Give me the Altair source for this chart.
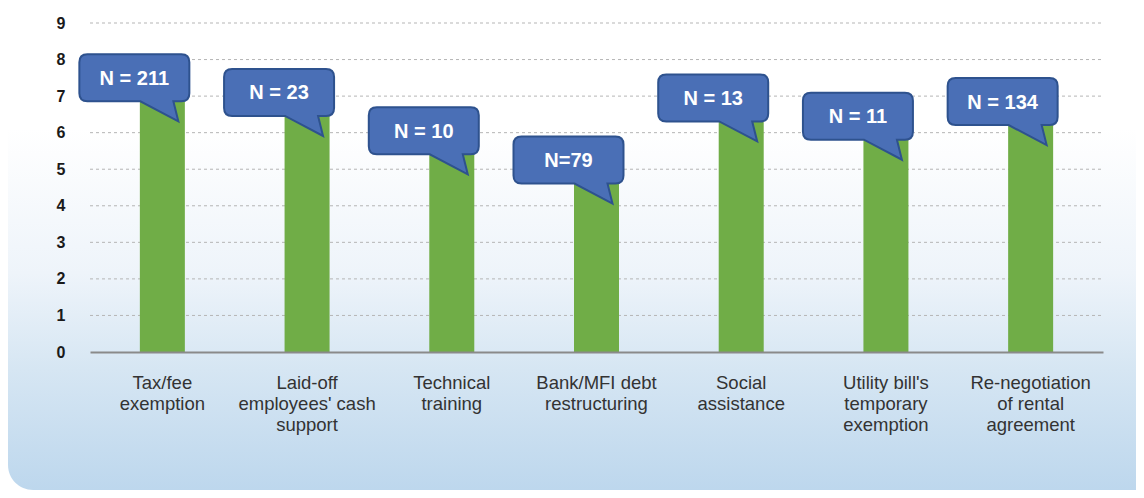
import altair as alt
import pandas as pd

categories = [
    "Tax/fee\nexemption",
    "Laid-off\nemployees' cash\nsupport",
    "Technical\ntraining",
    "Bank/MFI debt\nrestructuring",
    "Social\nassistance",
    "Utility bill's\ntemporary\nexemption",
    "Re-negotiation\nof rental\nagreement",
]
values = [7.5, 7.1, 6.05, 5.25, 6.95, 6.45, 6.85]
n_labels = ["N = 211", "N = 23", "N = 10", "N=79", "N = 13", "N = 11", "N = 134"]
y_ticks = [0, 1, 2, 3, 4, 5, 6, 7, 8, 9]
grid_vals = [1, 2, 3, 4, 5, 6, 7, 8, 9]

df = pd.DataFrame({"cat": categories, "val": values, "n": n_labels})
grid_df = pd.DataFrame({"g": grid_vals})

W, H = 1013, 329
PL, PT, PR, PB = 82, 15, 33, 138

callout_path = (
    "M -0.75,-0.235 L 0.19,-0.235 Q 0.27,-0.235 0.27,-0.155 L 0.27,0.155 "
    "Q 0.27,0.235 0.19,0.235 L 0.11,0.235 L 0.16,0.435 L -0.22,0.235 "
    "L -0.75,0.235 Q -0.83,0.235 -0.83,0.155 L -0.83,-0.155 "
    "Q -0.83,-0.235 -0.75,-0.235 Z"
)

x_enc = alt.X(
    "cat:N",
    sort=categories,
    title=None,
    axis=alt.Axis(
        labelAngle=0,
        labelExpr="split(datum.label, '\\n')",
        labelFont="Liberation Sans",
        labelFontSize=18.5,
        labelColor="#333333",
        labelLineHeight=21,
        labelPadding=21,
        labelBaseline="top",
        ticks=False,
        domainColor="#8a8a8a",
        domainWidth=2,
        grid=False,
        zindex=1,
        labelLimit=300,
    ),
)
y_scale = alt.Scale(domain=[0, 9], nice=False)
y_axis = alt.Axis(
    values=y_ticks,
    labelFont="Liberation Sans",
    labelFontSize=16,
    labelFontWeight="bold",
    labelColor="#1a1a1a",
    labelPadding=25,
    labelOverlap=False,
    ticks=False,
    domain=False,
    grid=False,
    zindex=1,
)
y_enc = alt.Y("val:Q", scale=y_scale, title=None, axis=y_axis)

gradient = alt.Gradient(
    gradient="linear",
    x1=0, x2=0, y1=0, y2=1,
    stops=[
        alt.GradientStop(color="#ffffff", offset=0),
        alt.GradientStop(color="#ffffff", offset=0.25),
        alt.GradientStop(color="#eef4fa", offset=0.55),
        alt.GradientStop(color="#d6e6f3", offset=0.75),
        alt.GradientStop(color="#bdd7ed", offset=1),
    ],
)

bg = alt.Chart(pd.DataFrame({"a": [0]})).mark_rect(
    fill=gradient, cornerRadius=25, clip=False
).encode(
    x=alt.value(-PL),
    x2=alt.value(W + PR + 30),
    y=alt.value(-PT),
    y2=alt.value(H + PB),
)

grid = alt.Chart(grid_df).mark_rule(
    color="#b5b5b5", strokeWidth=1, strokeDash=[3, 3]
).encode(
    y=alt.Y("g:Q", scale=y_scale, title=None, axis=y_axis),
    x=alt.value(0),
    x2=alt.value(W),
)

base = alt.Chart(df)
bars = base.mark_bar(color="#70ad47", size=45).encode(x=x_enc, y=y_enc)
callouts = base.mark_point(
    shape=callout_path,
    size=40000,
    filled=True,
    fill="#4a6fb6",
    stroke="#2e528e",
    strokeWidth=2,
    opacity=1,
).encode(x=x_enc, y=y_enc)
texts = base.mark_text(
    font="Liberation Sans",
    fontSize=20,
    fontWeight="bold",
    color="white",
    dx=-28,
    dy=1,
    baseline="middle",
    align="center",
).encode(x=x_enc, y=y_enc, text="n:N")

chart = alt.layer(bg, grid, bars, callouts, texts).properties(
    width=W,
    height=H,
    autosize=alt.AutoSizeParams(type="none"),
    padding={"left": PL, "top": PT, "right": PR, "bottom": PB},
).configure_view(stroke=None).configure(background="white")

chart.save("out.html", embed_options={"renderer": "svg", "actions": False})
